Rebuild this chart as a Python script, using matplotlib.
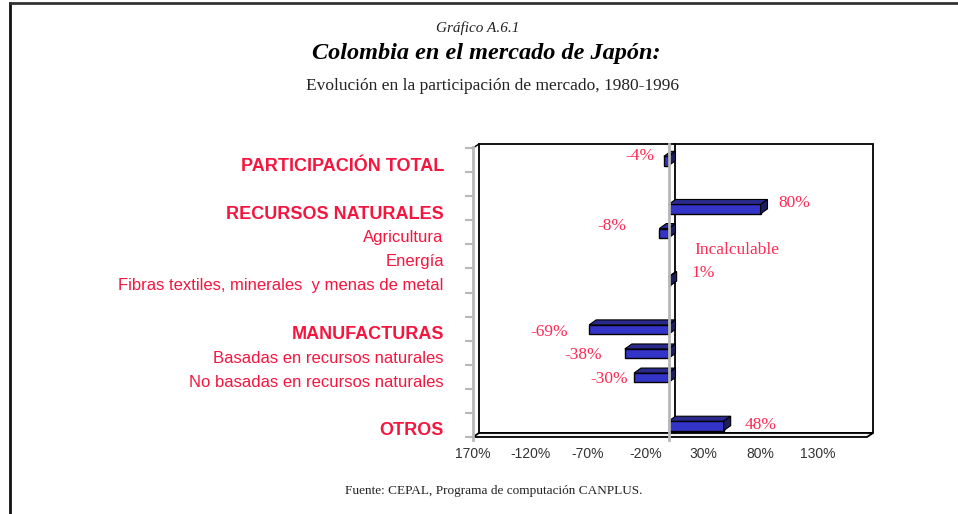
import matplotlib
matplotlib.use("Agg")
import matplotlib.pyplot as plt
from matplotlib.patches import Polygon
from matplotlib.lines import Line2D
from matplotlib.transforms import ScaledTranslation
import numpy as np

# ---------------- data ----------------
categories = ["PARTICIPACIÓN TOTAL", "", "RECURSOS NATURALES", "Agricultura", "Energía",
              "Fibras textiles, minerales  y menas de metal", "", "MANUFACTURAS",
              "Basadas en recursos naturales", "No basadas en recursos naturales", "", "OTROS"]
is_header = [True, False, True, False, False, False, False, True, False, False, False, True]
values = [-4, None, 80, -8, None, 1, None, -69, -38, -30, None, 48]
value_labels = ["-4%", "", "80%", "-8%", "Incalculable", "1%", "", "-69%", "-38%", "-30%", "", "48%"]
xtick_values = [-170, -120, -70, -20, 30, 80, 130]
xtick_labels = ["170%", "-120%", "-70%", "-20%", "30%", "80%", "130%"]

# label offsets (pixels) relative to bar end
label_offsets = [(-24, 4), None, (34, 5), (-47, 6), (68, 6), (33, 7), None,
                 (-40, -3), (-42, -2), (-25, -2), None, (37, 0)]

RED = "#f5153f"
LRED = "#ff2a55"
SERIF = ["Liberation Serif", "DejaVu Serif"]
SANS = ["Liberation Sans", "DejaVu Sans"]

W, H = 958, 514
fig = plt.figure(figsize=(W / 100, H / 100), dpi=100)
fig.patch.set_facecolor("white")

L, R, T, B = 473, 867, 148, 437
ax = fig.add_axes([L / W, (H - B) / H, (R - L) / W, (B - T) / H])
ppx = 1.15  # pixels per percent
xmin = -170
xmax = xmin + (R - L) / ppx
n = len(categories)
ax.set_xlim(xmin, xmax)
ax.set_ylim(n, 0)
for s in ax.spines.values():
    s.set_visible(False)
ax.patch.set_alpha(0)

dxu = (xmax - xmin) / (R - L)  # data per px (x)
dyu = n / (B - T)              # data per px (y)
DX, DY = 6 * dxu, 4 * dyu      # wall depth
BDX, BDY = 7 * dxu, 5 * dyu    # bar depth

# back wall
ax.add_patch(Polygon([(xmin + DX, -DY), (xmax + DX, -DY), (xmax + DX, n - DY), (xmin + DX, n - DY)],
                     closed=True, facecolor="white", edgecolor="black", lw=1.3, clip_on=False, zorder=1))
# floor
ax.add_patch(Polygon([(xmin, n), (xmax, n), (xmax + DX, n - DY), (xmin + DX, n - DY)],
                     closed=True, facecolor="#f2f2f2", edgecolor="black", lw=1.3, clip_on=False, zorder=2))
# left wall
ax.add_line(Line2D([xmin, xmin + DX], [0, -DY], color="black", lw=1.0, clip_on=False, zorder=2))
ax.add_line(Line2D([xmin, xmin], [-0.05, n + 0.12], color="#b8b8b8", lw=2, clip_on=False, zorder=3))
# zero wall
ax.add_line(Line2D([DX, DX], [-DY, n - DY], color="black", lw=1.3, clip_on=False, zorder=2))

# bars
h = 0.39
FRONT, TOP, SIDE = "#3434c8", "#2a2a8c", "#1d1d5e"
for i, v in enumerate(values):
    if v is None:
        continue
    c = i + 0.5 + 0.04
    ax.barh(c, v, height=h, color=FRONT, edgecolor="black", lw=1.0, zorder=4)
    x0, x1 = min(0, v), max(0, v)
    y0, y1 = c - h / 2, c + h / 2
    ax.add_patch(Polygon([(x0, y0), (x1, y0), (x1 + BDX, y0 - BDY), (x0 + BDX, y0 - BDY)],
                         closed=True, facecolor=TOP, edgecolor="black", lw=0.8, zorder=4))
    ax.add_patch(Polygon([(x1, y0), (x1 + BDX, y0 - BDY), (x1 + BDX, y1 - BDY), (x1, y1)],
                         closed=True, facecolor=SIDE, edgecolor="black", lw=0.8, zorder=4))

# front zero line
ax.add_line(Line2D([0, 0], [-DY, n + 0.12], color="#b8b8b8", lw=2, clip_on=False, zorder=5))

# value labels
for i, (v, lab) in enumerate(zip(values, value_labels)):
    if not lab:
        continue
    ox, oy = label_offsets[i]
    ax.annotate(lab, xy=(v if v is not None else 0, i + 0.5), xytext=(ox, oy),
                textcoords="offset pixels", ha="center", va="center",
                color=LRED, fontsize=12.5, family=SERIF, zorder=6)

# y ticks (boundaries) and category labels
ax.set_yticks(np.arange(n + 1), minor=True)
ax.tick_params(axis="y", which="minor", length=6, width=1.5, color="#b8b8b8", left=True)
idx = [i for i, c in enumerate(categories) if c]
ax.set_yticks([i + 0.5 for i in idx], [categories[i] for i in idx])
ax.tick_params(axis="y", which="major", length=0, pad=21)
shift = ScaledTranslation(0, -4 / 100, fig.dpi_scale_trans)
for lbl, i in zip(ax.get_yticklabels(), idx):
    lbl.set_color(RED)
    lbl.set_family(SANS)
    if is_header[i]:
        lbl.set_fontweight("bold")
        lbl.set_fontsize(13)
    else:
        lbl.set_fontsize(12)
    lbl.set_transform(lbl.get_transform() + shift)

ax.set_xticks(xtick_values, xtick_labels)
ax.tick_params(axis="x", length=0, pad=7, labelsize=10, labelcolor="#333333")
for lbl in ax.get_xticklabels():
    lbl.set_family(SANS)

# titles
fig.text(478 / W, 1 - 28 / H, "Gráfico A.6.1", ha="center", va="center",
         family=SERIF, style="italic", fontsize=11, color="#222222")
fig.text(486 / W, 1 - 53 / H, "Colombia en el mercado de Japón:", ha="center", va="center",
         family=SERIF, style="italic", weight="bold", fontsize=17.5, color="black")
fig.text(493 / W, 1 - 86 / H, "Evolución en la participación de mercado, 1980-1996", ha="center",
         va="center", family=SERIF, fontsize=12.5, color="#222222")
fig.text(494 / W, 1 - 491 / H, "Fuente: CEPAL, Programa de computación CANPLUS.", ha="center",
         va="center", family=SERIF, fontsize=9.5, color="#222222")

# page frame
fig.add_artist(Line2D([10 / W, 10 / W], [0, 1 - 3 / H], transform=fig.transFigure, color="#111111", lw=2))
fig.add_artist(Line2D([10 / W, 1], [1 - 3 / H, 1 - 3 / H], transform=fig.transFigure, color="#333333", lw=2))

fig.savefig("out.png", dpi=100)
